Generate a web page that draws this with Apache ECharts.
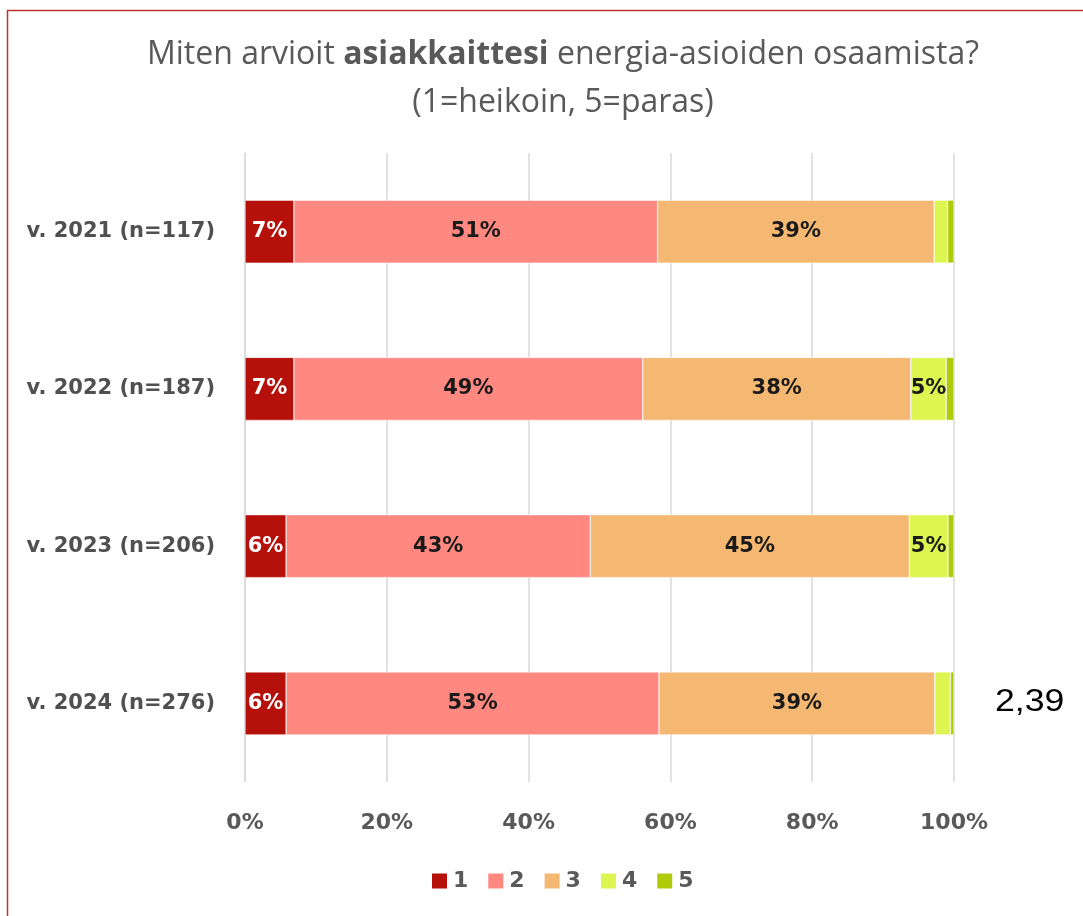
<!DOCTYPE html>
<html><head><meta charset="utf-8">
<script src="https://cdn.jsdelivr.net/npm/echarts@6/dist/echarts.min.js"></script>
<style>html,body{margin:0;padding:0;background:#fff}#c{width:1083px;height:916px}</style>
</head><body><div id="c"></div>
<script>
const categories = ['v. 2021 (n=117)', 'v. 2022 (n=187)', 'v. 2023 (n=206)', 'v. 2024 (n=276)'];
const seriesNames = ['1', '2', '3', '4', '5'];
const s1 = [6.9, 6.9, 5.8, 5.8];
const s2 = [51.3, 49.2, 42.9, 52.6];
const s3 = [39.0, 37.8, 45.0, 38.9];
const s4 = [1.9, 5.0, 5.45, 2.2];
const s5 = [0.9, 1.1, 0.85, 0.5];
const xTicks = ['0%', '20%', '40%', '60%', '80%', '100%'];
const averageNote = '2,39';
const colors = ['#B5100A', '#FF8880', '#F5B872', '#DDF550', '#AECB0A'];
const labelColors = ['#ffffff', '#1a1a1a', '#1a1a1a', '#1a1a1a', '#1a1a1a'];
const allData = [s1, s2, s3, s4, s5];

const chart = echarts.init(document.getElementById('c'));
const font = "'Open Sans', sans-serif";
const wide = "'DejaVu Sans', sans-serif";
chart.setOption({
  animation: false,
  title: {
    text: '{n|Miten arvioit }{b|asiakkaittesi}{n| energia-asioiden osaamista?}\n{n|(1=heikoin, 5=paras)}',
    left: 558, top: 26, textAlign: 'center',
    textStyle: {
      fontWeight: 'normal',
      rich: {
        n: { fontFamily: font, fontSize: 32, color: '#595959', fontWeight: 'normal', lineHeight: 48 },
        b: { fontFamily: font, fontSize: 32, color: '#595959', fontWeight: 'bold', lineHeight: 48 }
      }
    }
  },
  legend: {
    bottom: 19, left: 425, itemWidth: 17, itemHeight: 17, itemGap: 18, itemTextGap: 7,
    icon: 'rect',
    textStyle: { fontFamily: wide, fontSize: 22, fontWeight: 'bold', color: '#595959' },
    data: seriesNames
  },
  grid: { left: 245, right: 129, top: 153, bottom: 134, containLabel: false },
  xAxis: {
    type: 'value', min: 0, max: 100, interval: 20,
    axisLabel: { formatter: v => xTicks[v / 20], fontFamily: wide, fontSize: 22, fontWeight: 'bold', color: '#595959', margin: 30 },
    splitLine: { show: true, lineStyle: { color: '#d9d9d9', width: 1.5 } },
    axisLine: { show: false }, axisTick: { show: false }
  },
  yAxis: {
    type: 'category', data: categories, inverse: true,
    axisLabel: { fontFamily: wide, fontSize: 21, fontWeight: 'bold', color: '#505050', margin: 30 },
    axisLine: { show: true, lineStyle: { color: '#d9d9d9', width: 1.5 } },
    axisTick: { show: false }
  },
  series: allData.map((d, i) => ({
    name: seriesNames[i], type: 'bar', stack: 'total', barWidth: 63,
    itemStyle: { color: colors[i], borderColor: '#ffffff', borderWidth: 0.5 },
    label: {
      show: true, position: 'inside',
      formatter: p => p.value >= 4.5 ? Math.round(p.value) + '%' : '',
      fontFamily: wide, fontSize: 21, fontWeight: 'bold', color: labelColors[i]
    },
    data: d
  })),
  graphic: [
    { type: 'rect', left: 5, top: 8, shape: { width: 1100, height: 920 }, style: { fill: 'none', stroke: '#C0302A', lineWidth: 1.5 }, silent: true },
    { type: 'text', x: 995, y: 687, scaleX: 1.15, style: { text: averageNote, fontFamily: 'Liberation Sans, Arial, sans-serif', fontSize: 31, fill: '#000' } }
  ]
});
</script></body></html>
